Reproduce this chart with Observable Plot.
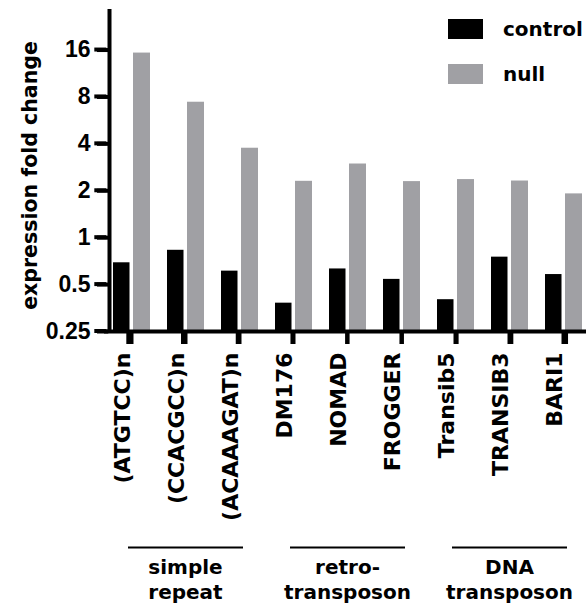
<!DOCTYPE html>
<html>
<head>
<meta charset="utf-8">
<script src="https://cdn.jsdelivr.net/npm/d3@7"></script>
<script src="https://cdn.jsdelivr.net/npm/@observablehq/plot@0.6"></script>
<style>
  html, body { margin: 0; padding: 0; background: #fff; overflow: hidden; }
  #wrap { position: relative; width: 586px; height: 607px; overflow: hidden; }
  g[aria-label="y-axis tick label"] text { font-family: "Liberation Sans", Arial, sans-serif; font-weight: bold; font-size: 23px; }
  g[aria-label="x-axis tick label"] text { font-family: "DejaVu Sans", sans-serif; font-weight: bold; font-size: 22px; }
  .legend { position: absolute; left: 448px; font-family: "DejaVu Sans", sans-serif; font-weight: bold; font-size: 20px; display: flex; align-items: center; white-space: nowrap; }
  .legend .sw { width: 35px; height: 20px; margin-right: 20px; }
</style>
</head>
<body>
<div id="wrap"></div>
<script>
const categories = ["(ATGTCC)n", "(CCACGCC)n", "(ACAAAGAT)n", "DM176", "NOMAD", "FROGGER", "Transib5", "TRANSIB3", "BARI1"];
const series = ["control", "null"];
const controlValues = [0.69, 0.83, 0.61, 0.38, 0.63, 0.54, 0.40, 0.75, 0.58];
const nullValues = [15.3, 7.4, 3.75, 2.30, 2.97, 2.29, 2.36, 2.31, 1.91];
const colors = ["#000000", "#a0a0a4"];
const yTicks = [0.25, 0.5, 1, 2, 4, 8, 16];
const yDomain = [0.25, 30];
const yLabel = "expression fold change";
const groupLabels = ["simple\nrepeat", "retro-\ntransposon", "DNA\ntransposon"];
const groupFirst = ["(ATGTCC)n", "DM176", "Transib5"];
const groupMid = ["(CCACGCC)n", "NOMAD", "TRANSIB3"];
const groupLast = ["(ACAAAGAT)n", "FROGGER", "BARI1"];

const controlData = categories.map((c, i) => ({category: c, value: controlValues[i]}));
const nullData = categories.map((c, i) => ({category: c, value: nullValues[i]}));
const groups = groupLabels.map((g, i) => ({label: g, first: groupFirst[i], mid: groupMid[i], last: groupLast[i]}));
const yTickRows = yTicks.map(t => ({t, c: categories[0]}));
const xTickRows = categories.map(c => ({c, b: yDomain[0]}));

const plot = Plot.plot({
  width: 586,
  height: 607,
  marginLeft: 106,
  marginRight: 0,
  marginTop: 7,
  marginBottom: 276,
  x: {domain: categories.slice(), padding: 0, range: [100.95, 593.4], axis: null},
  y: {type: "log", base: 2, domain: yDomain.slice(), axis: null},
  marks: [
    Plot.barY(controlData, {x: "category", y1: yDomain[0], y2: "value", fill: colors[0], insetLeft: 9, insetRight: 28.5}),
    Plot.barY(nullData, {x: "category", y1: yDomain[0], y2: "value", fill: colors[1], insetLeft: 29, insetRight: 8}),
    // tick marks
    Plot.tickY(yTickRows, {y: "t", x: "c", insetLeft: -7, insetRight: 49.7, strokeWidth: 4, stroke: "#000"}),
    Plot.ruleX(xTickRows, {x: "c", y1: "b", y2: "b", insetBottom: -13, strokeWidth: 4, stroke: "#000"}),
    Plot.axisY(yTicks, {anchor: "left", tickSize: 0, tickPadding: 16, label: null, tickFormat: d => String(d)}),
    Plot.axisX({anchor: "bottom", tickSize: 0, tickPadding: 21, label: null, tickRotate: -90, dx: -9}),
    // axis lines
    Plot.ruleY([yDomain[0]], {strokeWidth: 4, insetLeft: -2}),
    Plot.ruleX([categories[0]], {y1: yDomain[0], y2: yDomain[1], dx: -22, strokeWidth: 4, insetBottom: -2}),
    Plot.text([yLabel], {frameAnchor: "left", text: d => d, rotate: -90, textAnchor: "middle", dx: -76, dy: 6, fontSize: 20.5, fontWeight: "bold", fontFamily: "DejaVu Sans"}),
    Plot.ruleY(groups, {x1: "first", x2: "last", y: yDomain[0], dy: 216, insetLeft: 24, insetRight: 23, strokeWidth: 2}),
    Plot.text(groups, {x: "mid", text: "label", frameAnchor: "bottom", dy: 225, lineAnchor: "top", lineHeight: 1.25, fontSize: 20, fontWeight: "bold", fontFamily: "DejaVu Sans"})
  ]
});
const wrap = document.getElementById("wrap");
wrap.appendChild(plot);

// fallback tick marks positioned through Plot's scale descriptors
try {
  const dx = plot.scale("x"), dy = plot.scale("y");
  const sx = d3.scaleBand().domain(dx.domain).range(dx.range).paddingInner(dx.paddingInner || 0).paddingOuter(dx.paddingOuter || 0).align(dx.align ?? 0.5);
  const sy = d3.scaleLog().base(2).domain(dy.domain).range(dy.range);
  const svgEl = plot.tagName.toLowerCase() === "svg" ? plot : plot.querySelector("svg");
  const g = d3.select(svgEl).append("g").attr("aria-label", "tick marks").attr("stroke", "#000").attr("stroke-width", 4);
  const y0 = sy(yDomain[0]);
  categories.forEach(c => {
    const cx = sx(c) + sx.bandwidth() / 2;
    g.append("line").attr("x1", cx).attr("x2", cx).attr("y1", y0).attr("y2", y0 + 13);
  });
  const ax = sx(categories[0]) + sx.bandwidth() / 2 - 22;
  yTicks.forEach(t => {
    const ty = sy(t);
    g.append("line").attr("x1", ax - 12).attr("x2", ax).attr("y1", ty).attr("y2", ty);
  });
} catch (e) { console.error(e); }

const legendTops = [17, 62];
series.forEach((s, i) => {
  const d = document.createElement("div");
  d.className = "legend";
  d.style.top = legendTops[i] + "px";
  const sw = document.createElement("div");
  sw.className = "sw";
  sw.style.background = colors[i];
  const t = document.createElement("span");
  t.textContent = s;
  d.appendChild(sw);
  d.appendChild(t);
  wrap.appendChild(d);
});
</script>
</body>
</html>
